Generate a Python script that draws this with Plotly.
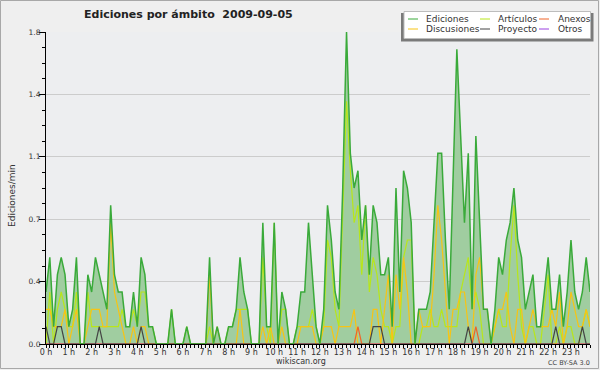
import plotly.graph_objects as go

# time slots: one per 10 minutes, expressed in hours
slots = [i / 6 for i in range(144)]
hour_ticks = list(range(24))
hour_labels = [f"{h} h" for h in hour_ticks]

# edits per 10-minute slot (chart shows edits per minute = count / 10)
ediciones_cnt = [3, 5, 1, 4, 5, 4, 1, 2, 5, 0,
                 0, 4, 3, 5, 4, 3, 2, 8, 4, 3,
                 3, 1, 1, 3, 1, 5, 4, 1, 1, 0,
                 0, 0, 0, 2, 0, 0, 0, 1, 0, 0,
                 0, 0, 0, 5, 0, 1, 0, 0, 1, 1,
                 2, 5, 3, 2, 0, 0, 0, 7, 1, 1,
                 7, 0, 3, 2, 0, 0, 1, 3, 3, 7,
                 4, 1, 0, 2, 8, 6, 3, 2, 9, 18,
                 11, 9, 10, 6, 8, 4, 8, 7, 4, 4,
                 5, 1, 9, 3, 10, 9, 7, 0, 2, 2,
                 2, 3, 7, 11, 11, 6, 2, 10, 17, 12,
                 7, 11, 2, 12, 7, 2, 2, 0, 2, 5,
                 4, 6, 7, 9, 6, 5, 2, 3, 4, 1,
                 1, 3, 5, 2, 2, 4, 1, 3, 6, 3,
                 2, 3, 5, 3]
articulos_cnt = [0, 3, 0, 2, 3, 2, 1, 1, 3, 0,
                 0, 3, 1, 1, 1, 1, 1, 1, 1, 1,
                 2, 1, 1, 2, 1, 3, 3, 1, 1, 0,
                 0, 0, 0, 2, 0, 0, 0, 1, 0, 0,
                 0, 0, 0, 1, 0, 0, 0, 0, 1, 1,
                 2, 2, 2, 2, 0, 0, 0, 5, 1, 0,
                 7, 0, 2, 2, 0, 0, 1, 1, 1, 1,
                 2, 1, 0, 1, 6, 5, 2, 1, 7, 14,
                 10, 7, 8, 4, 8, 3, 5, 4, 2, 1,
                 1, 0, 1, 1, 5, 6, 6, 0, 0, 1,
                 1, 2, 1, 1, 2, 1, 1, 1, 1, 3,
                 4, 5, 2, 3, 2, 0, 0, 0, 1, 2,
                 1, 1, 5, 8, 4, 1, 0, 1, 1, 0,
                 0, 2, 4, 0, 0, 1, 0, 1, 1, 0,
                 0, 1, 2, 1]
discusiones_cnt = [2, 2, 1, 1, 1, 2, 0, 1, 2, 0,
                   0, 1, 2, 2, 2, 1, 1, 7, 3, 2,
                   1, 0, 0, 1, 0, 1, 1, 0, 0, 0,
                   0, 0, 0, 0, 0, 0, 0, 0, 0, 0,
                   0, 0, 0, 4, 0, 1, 0, 0, 0, 0,
                   0, 2, 0, 0, 0, 0, 0, 1, 0, 1,
                   0, 0, 1, 0, 0, 0, 0, 1, 1, 1,
                   1, 0, 0, 1, 1, 1, 0, 1, 1, 1,
                   1, 2, 0, 0, 0, 0, 2, 2, 0, 2,
                   4, 0, 4, 2, 5, 3, 0, 0, 2, 1,
                   1, 1, 4, 8, 6, 3, 0, 2, 2, 3,
                   3, 1, 0, 4, 5, 2, 2, 0, 1, 2,
                   2, 3, 1, 0, 2, 2, 0, 1, 2, 1,
                   1, 1, 1, 2, 1, 3, 0, 1, 3, 2,
                   1, 1, 2, 1]
proyecto_cnt = [1, 0, 0, 1, 1, 0, 0, 0, 0, 0,
                0, 0, 0, 0, 1, 0, 0, 0, 0, 0,
                0, 0, 0, 0, 0, 1, 0, 0, 0, 0,
                0, 0, 0, 0, 0, 0, 0, 0, 0, 0,
                0, 0, 0, 0, 0, 0, 0, 0, 0, 0,
                0, 0, 0, 0, 0, 0, 0, 0, 0, 0,
                0, 0, 0, 0, 0, 0, 0, 0, 0, 0,
                0, 0, 0, 0, 0, 0, 0, 0, 0, 0,
                0, 0, 0, 0, 0, 0, 1, 1, 1, 0,
                0, 0, 0, 0, 0, 0, 0, 0, 0, 0,
                0, 0, 0, 0, 0, 0, 0, 0, 0, 0,
                0, 1, 0, 0, 0, 0, 0, 0, 0, 0,
                0, 0, 0, 0, 0, 0, 0, 0, 0, 0,
                0, 0, 0, 0, 1, 0, 0, 0, 0, 0,
                0, 1, 0, 0]
anexos_cnt = [0] * 82 + [1] + [0] * 30 + [1] + [0] * 30
otros_cnt = [0] * 144

def per_min(counts):
    return [c / 10 for c in counts]

ediciones = per_min(ediciones_cnt)
articulos = per_min(articulos_cnt)
discusiones = per_min(discusiones_cnt)
proyecto = per_min(proyecto_cnt)
anexos = per_min(anexos_cnt)
otros = per_min(otros_cnt)

y_tickvals = [0, 0.36, 0.72, 1.08, 1.44, 1.8]
y_ticktext = ["0.0", "0.4", "0.7", "1.1", "1.4", "1.8"]

C_ED_FILL = "#a0cda0"
C_ED_LINE = "#3aaa3a"
C_ART = "#b8e61a"
C_DISC = "#f7c414"
C_ANX = "#f06428"
C_PROY = "#444444"
C_OTR = "#9b40e0"

FONT = "DejaVu Sans"

fig = go.Figure()
fig.add_trace(go.Scatter(x=slots, y=ediciones, mode="lines", fill="tozeroy",
                         fillcolor=C_ED_FILL, line=dict(width=0, color="rgba(0,0,0,0)"),
                         hoverinfo="skip", showlegend=False))
for vals, col in [(otros, C_OTR), (articulos, C_ART), (discusiones, C_DISC),
                  (anexos, C_ANX), (proyecto, C_PROY)]:
    fig.add_trace(go.Scatter(x=slots, y=vals, mode="lines",
                             line=dict(color=col, width=1.2), showlegend=False))
fig.add_trace(go.Scatter(x=slots, y=ediciones, mode="lines",
                         line=dict(color=C_ED_LINE, width=1.5), showlegend=False))

# pixel -> paper helpers (plot area: x 46..590, y 32..344)
def px(x):
    return (x - 46) / 544

def py(y):
    return (344 - y) / 312

shapes = [
    # outer frame
    dict(type="rect", xref="paper", yref="paper", x0=px(0.5), x1=px(598.5),
         y0=py(368.5), y1=py(0.5), line=dict(color="#a8a8a8", width=1), layer="below"),
    # legend shadow + box
    dict(type="rect", xref="paper", yref="paper", x0=px(401), x1=px(593.5),
         y0=py(41.5), y1=py(13), fillcolor="#7a7a7a", line=dict(width=0)),
    dict(type="rect", xref="paper", yref="paper", x0=px(404), x1=px(590.5),
         y0=py(38.5), y1=py(11.5), fillcolor="#ffffff", line=dict(color="#bdbdbd", width=1)),
]

legend_items = [
    ("Ediciones", C_ED_LINE, 408, 424, 19),
    ("Artículos", C_ART, 480, 496, 19),
    ("Anexos", C_ANX, 539, 556, 19),
    ("Discusiones", C_DISC, 408, 424, 29),
    ("Proyecto", C_PROY, 480, 496, 29),
    ("Otros", C_OTR, 539, 556, 29),
]
annotations = []
for name, col, lx, tx, ly in legend_items:
    shapes.append(dict(type="line", xref="paper", yref="paper", x0=px(lx), x1=px(lx + 10),
                       y0=py(ly), y1=py(ly), line=dict(color=col, width=1)))
    annotations.append(dict(text=name, xref="paper", yref="paper", x=px(tx), y=py(ly),
                            xanchor="left", yanchor="middle", showarrow=False,
                            font=dict(family=FONT, size=9, color="#333333")))

annotations += [
    dict(text="Ediciones por ámbito\u00a0\u00a02009-09-05", xref="paper", yref="paper",
         x=px(188.5), y=py(14.5), xanchor="center", yanchor="middle", showarrow=False,
         font=dict(family=FONT, size=11, color="#222222", weight="bold")),
    dict(text="Ediciones/min", xref="paper", yref="paper", x=px(12), y=py(196),
         xanchor="center", yanchor="middle", textangle=-90, showarrow=False,
         font=dict(family=FONT, size=9, color="#333333")),
    dict(text="wikiscan.org", xref="paper", yref="paper", x=px(300.5), y=py(361),
         xanchor="center", yanchor="middle", showarrow=False,
         font=dict(family=FONT, size=8, color="#333333")),
    dict(text="CC BY-SA 3.0", xref="paper", yref="paper", x=px(569), y=py(363),
         xanchor="center", yanchor="middle", showarrow=False,
         font=dict(family=FONT, size=6.5, color="#444444")),
]

fig.update_layout(
    width=600, height=370,
    margin=dict(l=46, r=10, t=32, b=26, pad=0),
    paper_bgcolor="#efefef", plot_bgcolor="#edeef0",
    font=dict(family=FONT, size=8, color="#333333"),
    shapes=shapes, annotations=annotations, showlegend=False,
    xaxis=dict(range=[0, 143 / 6], tickmode="array", tickvals=hour_ticks, ticktext=hour_labels,
               ticks="outside", ticklen=3, tickcolor="#000", tickwidth=1,
               showline=True, linecolor="#000", linewidth=1, showgrid=False, zeroline=False,
               ticklabelstandoff=-3,
               tickfont=dict(family=FONT, size=8, color="#333333"),
               minor=dict(ticks="outside", ticklen=3, tick0=0, dtick=1 / 6, tickcolor="#000")),
    yaxis=dict(range=[0, 1.8], tickmode="array", tickvals=y_tickvals, ticktext=y_ticktext,
               ticks="outside", ticklen=6, tickcolor="#000", tickwidth=1,
               showline=True, linecolor="#000", linewidth=1,
               showgrid=True, gridcolor="#cccccc", gridwidth=1, zeroline=False,
               ticklabelstandoff=-3,
               tickfont=dict(family=FONT, size=7.5, color="#333333"),
               minor=dict(ticks="outside", ticklen=3, tick0=0, dtick=0.09, tickcolor="#000")),
)

fig.write_html("out.html", config={"displayModeBar": False},
               post_script="document.body.style.margin='0px';")
